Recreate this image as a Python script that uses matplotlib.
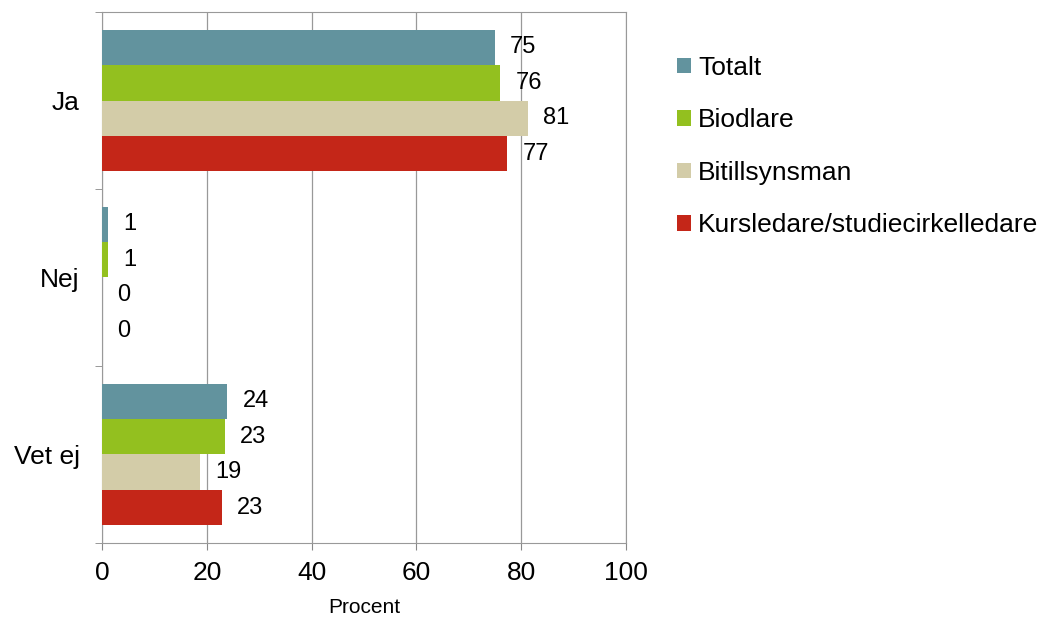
import matplotlib.pyplot as plt
import numpy as np

plt.rcParams['font.family'] = ['Liberation Sans', 'DejaVu Sans']

categories = ['Ja', 'Nej', 'Vet ej']
series = ['Totalt', 'Biodlare', 'Bitillsynsman', 'Kursledare/studiecirkelledare']
values = [
    [75.0, 1.1, 23.9],   # Totalt
    [76.0, 1.1, 23.5],   # Biodlare
    [81.3, 0.0, 18.7],   # Bitillsynsman
    [77.3, 0.0, 22.9],   # Kursledare/studiecirkelledare
]
labels = [
    ['75', '1', '24'],
    ['76', '1', '23'],
    ['81', '0', '19'],
    ['77', '0', '23'],
]
colors = ['#62939E', '#93C01F', '#D3CCA8', '#C42618']

fig = plt.figure(figsize=(10.42, 6.19), dpi=100)
ax = fig.add_axes([0.0979, 0.1228, 0.5029, 0.8578])

y = np.arange(len(categories))
h = 0.2
for i, (name, vals) in enumerate(zip(series, values)):
    pos = y - 0.3 + i * h
    ax.barh(pos, vals, height=h, color=colors[i], label=name, zorder=3)
    for p, v, t in zip(pos, vals, labels[i]):
        ax.text(v + 2.9, p, t, va='center', ha='left', fontsize=17)

ax.set_xlim(0, 100)
ax.set_ylim(2.5, -0.5)
ax.set_xticks(np.arange(0, 101, 20))
ax.set_xticklabels([str(v) for v in range(0, 101, 20)], fontsize=19)
ax.set_yticks(y)
ax.set_yticklabels(categories, fontsize=19)
ax.set_yticks([-0.5, 0.5, 1.5, 2.5], minor=True)
ax.tick_params(axis='y', which='major', length=0, pad=16)
ax.tick_params(axis='y', which='minor', length=5, color='#888888', direction='out')
ax.tick_params(axis='x', length=5, color='#888888', pad=8)
ax.grid(axis='x', color='#999999', linewidth=0.9, zorder=0)
for s in ax.spines.values():
    s.set_color('#999999')
ax.set_xlabel('Procent', fontsize=15, labelpad=9)

ax.legend(loc='upper left', bbox_to_anchor=(1.052, 0.962), frameon=False,
          fontsize=19, handlelength=0.53, handleheight=0.53, handletextpad=0.27,
          labelspacing=1.08)

plt.savefig('out.png', dpi=100)
